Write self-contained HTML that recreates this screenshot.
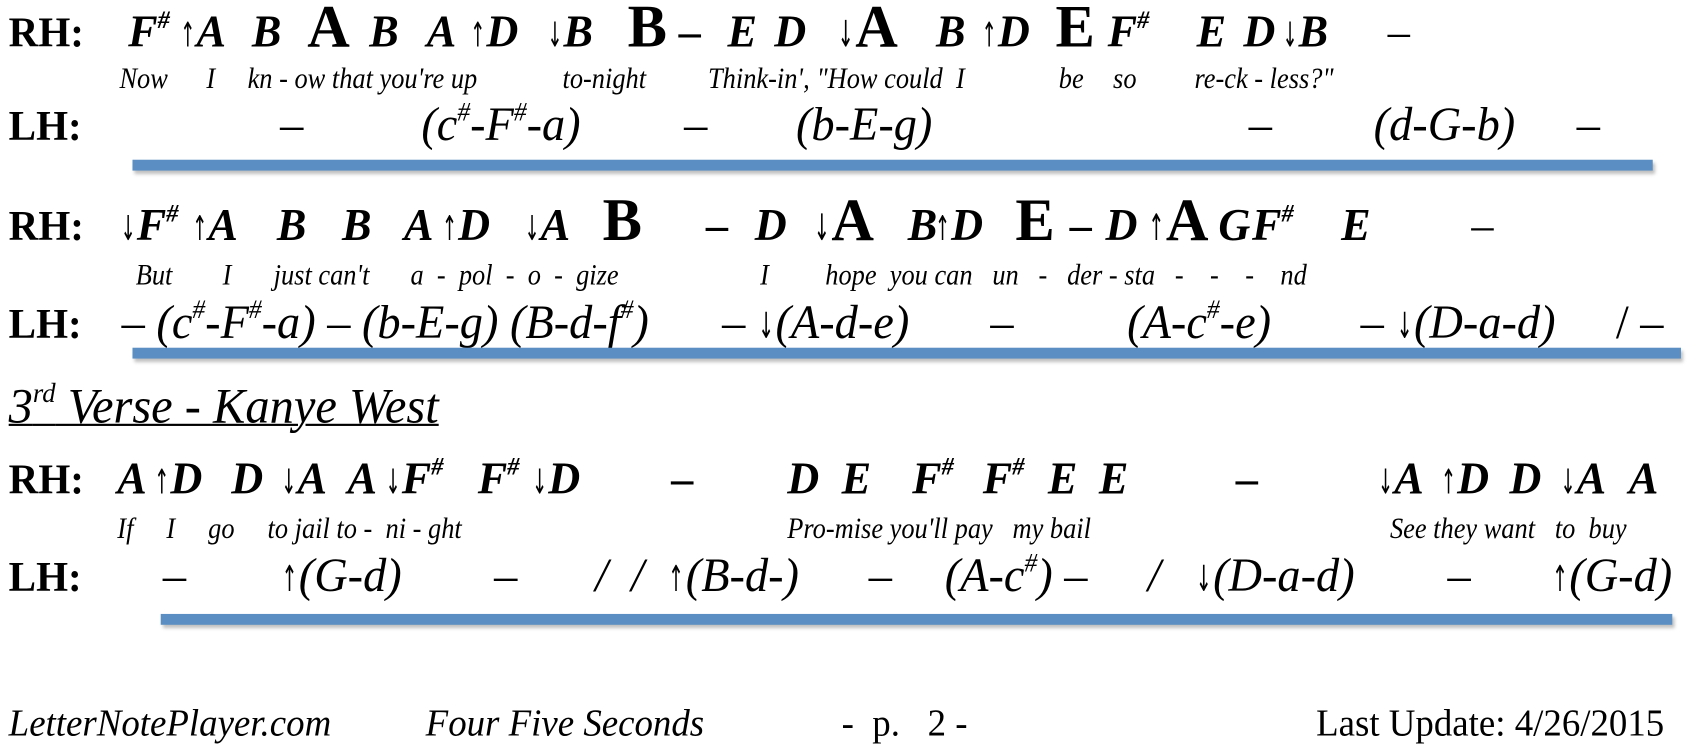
<!DOCTYPE html>
<html><head><meta charset="utf-8"><style>
html,body{margin:0;padding:0;background:#fff;overflow:hidden}
#w{position:absolute;left:0;top:0;width:1560px;height:693px;transform:scale(1.0859,1.0866);transform-origin:0 0;font-family:"Liberation Serif",serif;color:#000}
.r{position:absolute;left:0;height:0;width:1560px}
.r span{position:absolute;white-space:pre;line-height:1;transform:scaleX(.97);transform-origin:0 0}
.h{font-weight:bold;font-size:39px;top:-33px}
.n{font-weight:bold;font-style:italic;font-size:42px;top:-35px}
.N{font-weight:bold;font-size:56px;top:-47px}
.r span.l{font-style:italic;font-size:27px;top:-23px;transform:scaleX(.9)}
.c{font-style:italic;font-size:44px;top:-37px}
.d{font-weight:bold;font-size:42px;top:-35px}
i.a{font-style:normal;font-weight:normal;font-size:.75em;font-family:"DejaVu Sans",sans-serif;display:inline-block;transform:scaleX(.55);margin:0 -5px}
sup{font-size:.55em;vertical-align:.75em;line-height:0}
.bar{position:absolute;height:10px;background:#5b8fc3;box-shadow:2px 3px 3px rgba(0,0,0,.25)}
.f{font-size:35px;top:-29px}
</style></head><body><div id="w">

<div class="r" style="top:44px">
<span class="h" style="left:8px">RH:</span>
<span class="n" style="left:118px">F<sup>#</sup></span>
<span class="n" style="left:165px"><i class="a">↑</i>A</span>
<span class="n" style="left:232px">B</span>
<span class="N" style="left:283px">A</span>
<span class="n" style="left:340px">B</span>
<span class="n" style="left:393px">A</span>
<span class="n" style="left:432px"><i class="a">↑</i>D</span>
<span class="n" style="left:503px"><i class="a">↓</i>B</span>
<span class="N" style="left:578px">B</span>
<span class="d" style="left:625px">–</span>
<span class="n" style="left:670px">E</span>
<span class="n" style="left:713px">D</span>
<span class="N" style="left:770px"><i class="a" style="font-size:.6em">↓</i>A</span>
<span class="n" style="left:862px">B</span>
<span class="n" style="left:903px"><i class="a">↑</i>D</span>
<span class="N" style="left:972px">E</span>
<span class="n" style="left:1020px">F<sup>#</sup></span>
<span class="n" style="left:1102px">E</span>
<span class="n" style="left:1145px">D</span>
<span class="n" style="left:1180px"><i class="a">↓</i>B</span>
<span class="d" style="left:1278px;font-weight:normal">–</span>
</div>

<div class="r" style="top:82px">
<span class="l" style="left:110px">Now</span>
<span class="l" style="left:190px">I</span>
<span class="l" style="left:228px">kn - ow that you're up</span>
<span class="l" style="left:518px">to-night</span>
<span class="l" style="left:652px">Think-in',</span>
<span class="l" style="left:752px">"How could&nbsp; I</span>
<span class="l" style="left:975px">be</span>
<span class="l" style="left:1025px">so</span>
<span class="l" style="left:1100px">re-ck - less?"</span>
</div>

<div class="r" style="top:130px">
<span class="h" style="left:8px">LH:</span>
<span class="c" style="left:258px;font-style:normal">–</span>
<span class="c" style="left:388px">(c<sup>#</sup>-F<sup>#</sup>-a)</span>
<span class="c" style="left:630px;font-style:normal">–</span>
<span class="c" style="left:733px">(b-E-g)</span>
<span class="c" style="left:1150px;font-style:normal">–</span>
<span class="c" style="left:1265px">(d-G-b)</span>
<span class="c" style="left:1452px;font-style:normal">–</span>
</div>
<div class="bar" style="left:122px;top:147px;width:1400px"></div>

<div class="r" style="top:222px">
<span class="h" style="left:8px">RH:</span>
<span class="n" style="left:110px"><i class="a">↓</i>F<sup>#</sup></span>
<span class="n" style="left:176px"><i class="a">↑</i>A</span>
<span class="n" style="left:255px">B</span>
<span class="n" style="left:315px">B</span>
<span class="n" style="left:372px">A</span>
<span class="n" style="left:406px"><i class="a">↑</i>D</span>
<span class="n" style="left:482px"><i class="a">↓</i>A</span>
<span class="N" style="left:555px">B</span>
<span class="d" style="left:650px">–</span>
<span class="n" style="left:695px">D</span>
<span class="N" style="left:748px"><i class="a" style="font-size:.6em">↓</i>A</span>
<span class="n" style="left:836px">B</span>
<span class="n" style="left:860px"><i class="a">↑</i>D</span>
<span class="N" style="left:935px">E</span>
<span class="d" style="left:985px">–</span>
<span class="n" style="left:1018px">D</span>
<span class="N" style="left:1056px"><i class="a" style="font-size:.6em">↑</i>A</span>
<span class="n" style="left:1122px">G</span>
<span class="n" style="left:1153px">F<sup>#</sup></span>
<span class="n" style="left:1235px">E</span>
<span class="d" style="left:1355px;font-weight:normal">–</span>
</div>

<div class="r" style="top:263px">
<span class="l" style="left:125px">But</span>
<span class="l" style="left:205px">I</span>
<span class="l" style="left:252px">just can't</span>
<span class="l" style="left:378px">a&nbsp; -&nbsp; pol&nbsp; -&nbsp; o&nbsp; -&nbsp; gize</span>
<span class="l" style="left:700px">I</span>
<span class="l" style="left:760px">hope&nbsp; you can&nbsp;&nbsp; un&nbsp;&nbsp; -&nbsp;&nbsp; der - sta&nbsp;&nbsp; -&nbsp;&nbsp;&nbsp; -&nbsp;&nbsp;&nbsp; -&nbsp;&nbsp;&nbsp; nd</span>
</div>

<div class="r" style="top:312px">
<span class="h" style="left:8px">LH:</span>
<span class="c" style="left:112px">– (c<sup>#</sup>-F<sup>#</sup>-a) – (b-E-g) (B-d-f<sup>#</sup>)</span>
<span class="c" style="left:665px">– <i class="a">↓</i>(A-d-e)</span>
<span class="c" style="left:912px">–</span>
<span class="c" style="left:1038px">(A-c<sup>#</sup>-e)</span>
<span class="c" style="left:1253px">– <i class="a">↓</i>(D-a-d)</span>
<span class="c" style="left:1488px;font-style:normal">/ –</span>
</div>
<div class="bar" style="left:122px;top:320px;width:1426px"></div>

<div class="r" style="top:390px">
<span style="left:8px;top:-39px;font-style:italic;font-size:46px;text-decoration:underline;text-decoration-thickness:2px">3<sup>rd</sup> Verse - Kanye West</span>
</div>

<div class="r" style="top:455px">
<span class="h" style="left:8px">RH:</span>
<span class="n" style="left:108px">A</span>
<span class="n" style="left:141px"><i class="a">↑</i>D</span>
<span class="n" style="left:213px">D</span>
<span class="n" style="left:258px"><i class="a">↓</i>A</span>
<span class="n" style="left:320px">A</span>
<span class="n" style="left:354px"><i class="a">↓</i>F<sup>#</sup></span>
<span class="n" style="left:440px">F<sup>#</sup></span>
<span class="n" style="left:489px"><i class="a">↓</i>D</span>
<span class="d" style="left:618px">–</span>
<span class="n" style="left:725px">D</span>
<span class="n" style="left:775px">E</span>
<span class="n" style="left:840px">F<sup>#</sup></span>
<span class="n" style="left:905px">F<sup>#</sup></span>
<span class="n" style="left:965px">E</span>
<span class="n" style="left:1012px">E</span>
<span class="d" style="left:1138px">–</span>
<span class="n" style="left:1268px"><i class="a">↓</i>A</span>
<span class="n" style="left:1326px"><i class="a">↑</i>D</span>
<span class="n" style="left:1390px">D</span>
<span class="n" style="left:1436px"><i class="a">↓</i>A</span>
<span class="n" style="left:1500px">A</span>
</div>

<div class="r" style="top:496px">
<span class="l" style="left:108px">If&nbsp;&nbsp;&nbsp;&nbsp; I&nbsp;&nbsp;&nbsp;&nbsp; go&nbsp;&nbsp;&nbsp;&nbsp; to jail to - &nbsp;ni - ght</span>
<span class="l" style="left:725px">Pro-mise you'll pay&nbsp;&nbsp; my bail</span>
<span class="l" style="left:1280px">See they want&nbsp;&nbsp; to&nbsp; buy</span>
</div>

<div class="r" style="top:545px">
<span class="h" style="left:8px">LH:</span>
<span class="c" style="left:150px;font-style:normal">–</span>
<span class="c" style="left:258px"><i class="a">↑</i>(G-d)</span>
<span class="c" style="left:455px;font-style:normal">–</span>
<span class="c" style="left:548px">/&nbsp; /&nbsp; <i class="a">↑</i>(B-d-)</span>
<span class="c" style="left:800px;font-style:normal">–</span>
<span class="c" style="left:870px">(A-c<sup>#</sup>) –</span>
<span class="c" style="left:1057px">/</span>
<span class="c" style="left:1100px"><i class="a">↓</i>(D-a-d)</span>
<span class="c" style="left:1333px;font-style:normal">–</span>
<span class="c" style="left:1428px"><i class="a">↑</i>(G-d)</span>
</div>
<div class="bar" style="left:148px;top:565px;width:1392px"></div>

<div class="r" style="top:677px">
<span class="f" style="left:8px;font-style:italic">LetterNotePlayer.com</span>
<span class="f" style="left:392px;font-style:italic">Four Five Seconds</span>
<span class="f" style="left:775px">-&nbsp; p.&nbsp;&nbsp; 2 -</span>
<span class="f" style="left:1212px">Last Update: 4/26/2015</span>
</div>

</div></body></html>
